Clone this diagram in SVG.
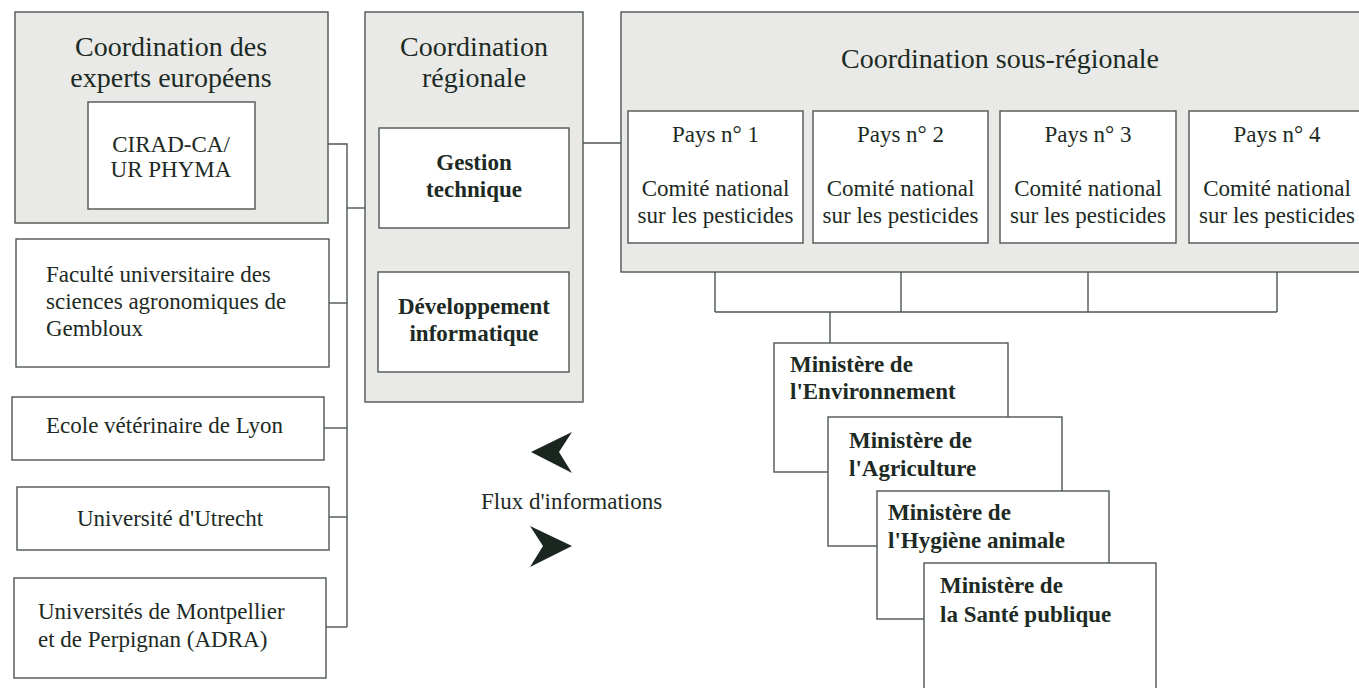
<svg xmlns="http://www.w3.org/2000/svg" width="1359" height="688" viewBox="0 0 1359 688">
<style>
.grp{fill:#e9eae7;stroke:#4d5651;stroke-width:1.4}
.box{fill:#ffffff;stroke:#4d5651;stroke-width:1.4}
.t{font-family:"Liberation Serif","Times New Roman",serif;fill:#1d2a24}
.r28{font-size:28px}
.r23{font-size:23px}
.b23{font-size:23px;font-weight:bold}
.mid{text-anchor:middle}
.ln{fill:none;stroke:#4d5651;stroke-width:1.4}
.arr{fill:#1c2620}
</style>
<rect width="1359" height="688" fill="#ffffff"/>

<g id="connectors">
<polyline class="ln" points="328,144 347,144 347,627"/>
<line class="ln" x1="347" y1="208" x2="365" y2="208"/>
<line class="ln" x1="329" y1="303" x2="347" y2="303"/>
<line class="ln" x1="324" y1="428" x2="347" y2="428"/>
<line class="ln" x1="329" y1="517" x2="347" y2="517"/>
<line class="ln" x1="326" y1="627" x2="347" y2="627"/>
<line class="ln" x1="583" y1="143" x2="621" y2="143"/>
<line class="ln" x1="715" y1="243" x2="715" y2="312"/>
<line class="ln" x1="901" y1="243" x2="901" y2="312"/>
<line class="ln" x1="1088" y1="243" x2="1088" y2="312"/>
<line class="ln" x1="1277" y1="243" x2="1277" y2="312"/>
<line class="ln" x1="715" y1="312" x2="1277" y2="312"/>
<line class="ln" x1="830" y1="312" x2="830" y2="343"/>
</g>

<g id="experts">
<rect class="grp" x="15" y="12" width="313" height="211"/>
<text class="t r28 mid" x="171" y="56">Coordination des</text>
<text class="t r28 mid" x="171" y="87">experts européens</text>
</g>
<g id="cirad">
<rect class="box" x="88" y="102" width="167" height="107"/>
<text class="t r23 mid" x="171" y="152">CIRAD-CA/</text>
<text class="t r23 mid" x="171" y="177">UR PHYMA</text>
</g>
<g id="faculte">
<rect class="box" x="16" y="239" width="313" height="128"/>
<text class="t r23" x="46" y="282">Faculté universitaire des</text>
<text class="t r23" x="46" y="309">sciences agronomiques de</text>
<text class="t r23" x="46" y="336">Gembloux</text>
</g>
<g id="ecole">
<rect class="box" x="12" y="397" width="312" height="63"/>
<text class="t r23" x="46" y="433">Ecole vétérinaire de Lyon</text>
</g>
<g id="utrecht">
<rect class="box" x="17" y="487" width="312" height="63"/>
<text class="t r23" x="77" y="526">Université d'Utrecht</text>
</g>
<g id="montpellier">
<rect class="box" x="14" y="578" width="312" height="100"/>
<text class="t r23" x="38" y="619">Universités de Montpellier</text>
<text class="t r23" x="38" y="647">et de Perpignan (ADRA)</text>
</g>

<g id="regionale">
<rect class="grp" x="365" y="12" width="218" height="390"/>
<text class="t r28 mid" x="474" y="56">Coordination</text>
<text class="t r28 mid" x="474" y="87">régionale</text>
</g>
<g id="gestion">
<rect class="box" x="379" y="128" width="190" height="100"/>
<text class="t b23 mid" x="474" y="170">Gestion</text>
<text class="t b23 mid" x="474" y="197">technique</text>
</g>
<g id="developpement">
<rect class="box" x="378" y="272" width="191" height="100"/>
<text class="t b23 mid" x="474" y="314">Développement</text>
<text class="t b23 mid" x="474" y="341">informatique</text>
</g>

<g id="sousregionale">
<rect class="grp" x="621" y="12" width="745" height="260"/>
<text class="t r28" x="841" y="68">Coordination sous-régionale</text>
</g>
<g id="pays1">
<rect class="box" x="628" y="111" width="175" height="132"/>
<text class="t r23 mid" x="715.5" y="142">Pays n° 1</text>
<text class="t r23 mid" x="715.5" y="196">Comité national</text>
<text class="t r23 mid" x="715.5" y="223">sur les pesticides</text>
</g>
<g id="pays2">
<rect class="box" x="813" y="111" width="175" height="132"/>
<text class="t r23 mid" x="900.5" y="142">Pays n° 2</text>
<text class="t r23 mid" x="900.5" y="196">Comité national</text>
<text class="t r23 mid" x="900.5" y="223">sur les pesticides</text>
</g>
<g id="pays3">
<rect class="box" x="1000" y="111" width="176" height="132"/>
<text class="t r23 mid" x="1088" y="142">Pays n° 3</text>
<text class="t r23 mid" x="1088" y="196">Comité national</text>
<text class="t r23 mid" x="1088" y="223">sur les pesticides</text>
</g>
<g id="pays4">
<rect class="box" x="1189" y="111" width="176" height="132"/>
<text class="t r23 mid" x="1277" y="142">Pays n° 4</text>
<text class="t r23 mid" x="1277" y="196">Comité national</text>
<text class="t r23 mid" x="1277" y="223">sur les pesticides</text>
</g>

<g id="min-env">
<rect class="box" x="774" y="343" width="234" height="129"/>
<text class="t b23" x="790" y="372">Ministère de</text>
<text class="t b23" x="790" y="399">l'Environnement</text>
</g>
<g id="min-agr">
<rect class="box" x="828" y="417" width="234" height="129"/>
<text class="t b23" x="849" y="448">Ministère de</text>
<text class="t b23" x="849" y="476">l'Agriculture</text>
</g>
<g id="min-hyg">
<rect class="box" x="877" y="491" width="232" height="128"/>
<text class="t b23" x="888" y="520">Ministère de</text>
<text class="t b23" x="888" y="548">l'Hygiène animale</text>
</g>
<g id="min-sante">
<rect class="box" x="924" y="563" width="232" height="140"/>
<text class="t b23" x="940" y="593">Ministère de</text>
<text class="t b23" x="940" y="622">la Santé publique</text>
</g>

<g id="flux">
<polygon class="arr" points="531,452 572,432 559,452 572,473"/>
<text class="t r23" x="481" y="509">Flux d'informations</text>
<polygon class="arr" points="572,546 530,526 543,546 530,567"/>
</g>
</svg>
